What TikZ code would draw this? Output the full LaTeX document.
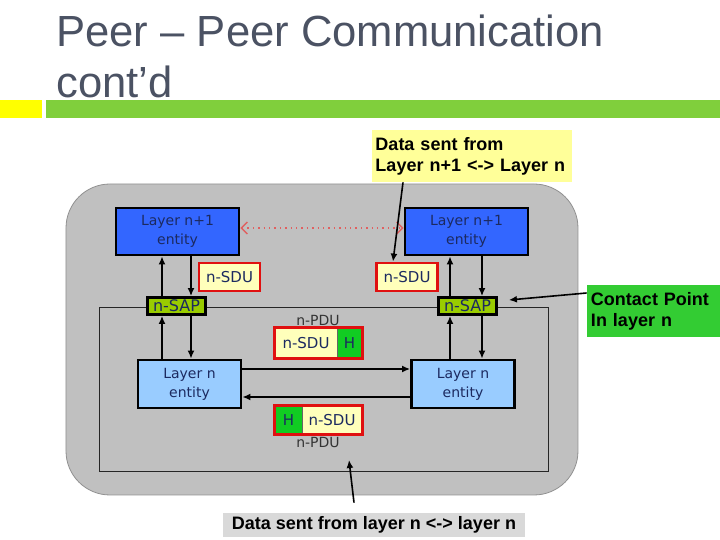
\documentclass[tikz,border=0pt]{standalone}
\usepackage{fontspec}
\setmainfont{Liberation Sans}
\newfontfamily\diagfont{DejaVu Sans}
\usetikzlibrary{arrows.meta}

\definecolor{titlegray}{HTML}{4B5263}
\definecolor{bargreen}{HTML}{80CF3C}
\definecolor{baryellow}{HTML}{FFFF00}
\definecolor{panelgray}{HTML}{C0C0C0}
\definecolor{upperblue}{HTML}{3366FF}
\definecolor{lowerblue}{HTML}{99CCFF}
\definecolor{navytext}{HTML}{1C2A60}
\definecolor{sapgreen}{HTML}{99CC00}
\definecolor{sducream}{HTML}{FFFFBB}
\definecolor{sdured}{HTML}{E01010}
\definecolor{hgreen}{HTML}{11CC22}
\definecolor{dotred}{HTML}{E06060}
\definecolor{noteyellow}{HTML}{FFFF99}
\definecolor{notegreen}{HTML}{33CC33}
\definecolor{notegray}{HTML}{D9D9D9}

\begin{document}
\begin{tikzpicture}[x=0.5pt,y=-0.5pt,
    upper/.style={draw,line width=1.4pt,fill=upperblue,text=navytext,minimum width=61.5pt,minimum height=23.5pt,inner sep=0pt,align=center,font=\diagfont\fontsize{7}{9.5}\selectfont},
    lower/.style={upper,fill=lowerblue,minimum width=51.5pt,minimum height=24pt},
    sap/.style={draw,line width=1.4pt,fill=sapgreen,text=navytext,minimum width=29pt,minimum height=8.5pt,inner sep=0pt,font=\diagfont\fontsize{8}{8}\selectfont},
    sdu/.style={draw=sdured,line width=1.4pt,fill=sducream,text=navytext,minimum width=30.5pt,minimum height=14pt,inner sep=0pt,font=\diagfont\fontsize{7.5}{8}\selectfont},
    part/.style={draw=black!60,thin,fill=sducream,text=navytext,inner sep=0pt,font=\diagfont\fontsize{7.5}{8}\selectfont},
    pdu/.style={inner sep=0pt,text=black!80,font=\diagfont\fontsize{7}{8}\selectfont},
    note/.style={inner sep=0pt,align=left,font=\bfseries\fontsize{9}{10.5}\selectfont},
    link/.style={-{Latex[length=4pt,width=3.5pt]},line width=1.1pt},
    pointer/.style={-{Latex[length=4pt,width=3.5pt]},line width=0.8pt}]
    \useasboundingbox (0,0) rectangle (720,540);

    \fill[baryellow] (0,100) rectangle (42,118);
    \fill[bargreen] (46,100) rectangle (720,118);
    \node[anchor=base west,inner sep=0pt,text=titlegray,font=\fontsize{21.8}{26}\selectfont] (title1) at (56,47) {Peer – Peer Communication};
    \node[anchor=base west,inner sep=0pt,text=titlegray,font=\fontsize{21.8}{26}\selectfont] (title2) at (56,98) {cont’d};

    \draw[draw=panelgray!75!black,fill=panelgray,rounded corners=22pt] (66,184) rectangle (578,495);
    \draw[black!85,thin] (99.5,307) rectangle (548.5,471);

    \node[upper] (up1) at (177.5,231.5) {Layer n+1\\entity};
    \node[upper] (up2) at (466.5,231.5) {Layer n+1\\entity};
    \node[sdu] (sdu1) at (229.5,277) {n-SDU};
    \node[sdu] (sdu2) at (407,277) {n-SDU};
    \node[sap] (sap1) at (176.5,306) {n-SAP};
    \node[sap] (sap2) at (467.5,306) {n-SAP};
    \node[lower] (low1) at (189.5,384) {Layer n\\entity};
    \node[lower] (low2) at (463,384) {Layer n\\entity};

    \node[pdu] (lbl1) at (318,320) {n-PDU};
    \node[part,minimum width=31pt,minimum height=15pt] (sduA) at (306,343) {n-SDU};
    \node[part,fill=hgreen,minimum width=12.5pt,minimum height=15pt] (hA) at (349.5,343) {H};
    \draw[sdured,line width=1.4pt] (sduA.north west) rectangle (hA.south east);
    \node[part,fill=hgreen,minimum width=13.5pt,minimum height=14pt] (hB) at (288.5,420) {H};
    \node[part,minimum width=30pt,minimum height=14pt] (sduB) at (332,420) {n-SDU};
    \draw[sdured,line width=1.4pt] (hB.north west) rectangle (sduB.south east);
    \node[pdu] (lbl2) at (318,442) {n-PDU};

    \coordinate (lane1) at (162,0);
    \coordinate (lane2) at (191,0);
    \coordinate (lane3) at (450,0);
    \coordinate (lane4) at (482,0);

    \draw[dotted,line width=0.7pt,dotred,{Straight Barb[length=3pt]}-{Straight Barb[length=3pt]}] ([yshift=1.75pt]up1.east) -- ([yshift=1.75pt]up2.west);

    \draw[link] (lane1 |- sap1.north) -- (lane1 |- up1.south);
    \draw[link] (lane2 |- up1.south) -- (lane2 |- sap1.north);
    \draw[link] (lane1 |- low1.north) -- (lane1 |- sap1.south);
    \draw[link] (lane2 |- sap1.south) -- (lane2 |- low1.north);
    \draw[link] (lane3 |- sap2.north) -- (lane3 |- up2.south);
    \draw[link] (lane4 |- up2.south) -- (lane4 |- sap2.north);
    \draw[link] (lane3 |- low2.north) -- (lane3 |- sap2.south);
    \draw[link] (lane4 |- sap2.south) -- (lane4 |- low2.north);
    \draw[link] ([yshift=7.5pt]low1.east) -- ([yshift=7.5pt]low2.west);
    \draw[link] ([yshift=-6.5pt]low2.west) -- ([yshift=-6.5pt]low1.east);

    \node[note,fill=noteyellow,minimum width=100pt,minimum height=26pt,text width=96.5pt] (noteA) at (472,156) {Data sent from\\Layer n+1 <-> Layer n};
    \node[note,fill=notegreen,minimum width=66.5pt,minimum height=26pt,text width=62.5pt] (noteB) at (653.5,311) {Contact Point\\In layer n};
    \node[note,fill=notegray,minimum width=151pt,minimum height=12pt,align=center] (noteC) at (374,525) {Data sent from layer n <-> layer n};

    \draw[pointer] ([xshift=-34.5pt]noteA.south) -- ([xshift=-7pt]sdu2.north);
    \draw[pointer] ([yshift=9pt]noteB.west) -- ([xshift=5.5pt,yshift=3pt]sap2.east);
    \draw[pointer] ([xshift=-10pt,yshift=5pt]noteC.north) -- ([xshift=15.5pt,yshift=-9pt]lbl2.center);
\end{tikzpicture}
\end{document}
